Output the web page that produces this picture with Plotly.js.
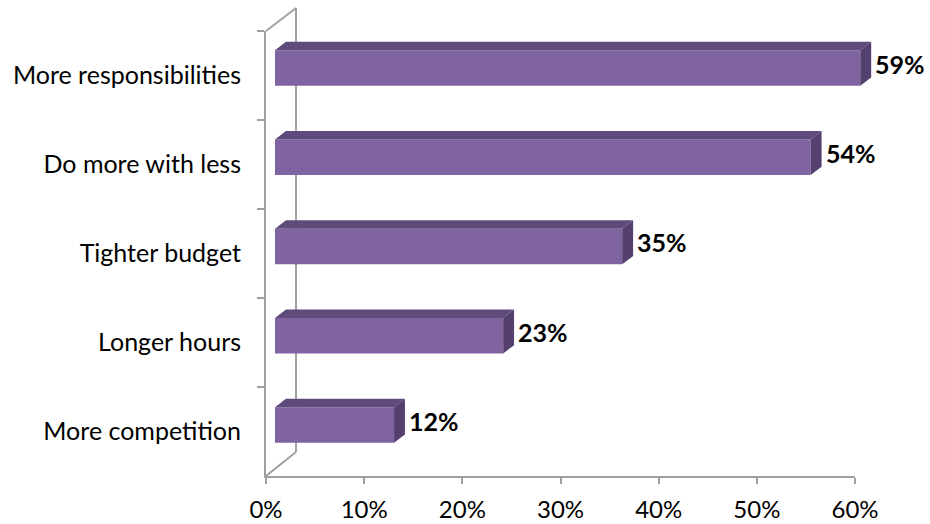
<!DOCTYPE html>
<html>
<head>
<meta charset="utf-8">
<script src="https://cdn.plot.ly/plotly-3.0.1.min.js"></script>
<style>html,body{margin:0;padding:0;background:#fff;}#chart{width:930px;height:524px;}</style>
</head>
<body>
<div id="chart"></div>
<script>
// ---- data (top to bottom as shown) ----
const categories = ["More responsibilities", "Do more with less", "Tighter budget", "Longer hours", "More competition"];
const values = [59, 54, 35, 23, 12];
const xTickVals = [0, 10, 20, 30, 40, 50, 60];
const xTickText = ["0%", "10%", "20%", "30%", "40%", "50%", "60%"];

// ---- layout geometry ----
const W = 930, H = 524;
const px = p => p / W;
const py = p => 1 - p / H;
const FONT = "Lato, 'Open Sans', sans-serif";
const AXIS_COLOR = "#a0a0a0";
const FRONT = "#8064A2", TOP = "#5f4b7b", SIDE = "#54406e";
const BAR_W = 0.4, DX = 1.1, DY = 0.095;   // bar thickness and 3-D depth offset (axis units)
const BAR_X0 = 275, BAR_PX_PER_UNIT = 9.92;  // where bars start and their scale (pixels)

const idx = categories.map((_, i) => i);

const traces = [
  // helper trace that registers the category axis (invisible)
  {type: "scatter", mode: "markers", x: values, y: categories, xaxis: "x", yaxis: "y",
   marker: {opacity: 0}, hoverinfo: "skip", showlegend: false},
  // bar front faces
  {type: "bar", orientation: "h", x: values, y: idx, xaxis: "x2", yaxis: "y2", width: BAR_W,
   marker: {color: FRONT, line: {width: 0}}, hoverinfo: "skip", showlegend: false}
];

const shapes = [];
// back wall / depth lines
const wall = {type: "line", xref: "paper", yref: "paper", layer: "below", line: {color: AXIS_COLOR, width: 2}};
shapes.push(Object.assign({}, wall, {x0: px(266), y0: py(31), x1: px(296), y1: py(8)}));
shapes.push(Object.assign({}, wall, {x0: px(296), y0: py(8), x1: px(296), y1: py(452)}));
shapes.push(Object.assign({}, wall, {x0: px(266), y0: py(476), x1: px(296), y1: py(452)}));

// 3-D top and side faces computed from each value
values.forEach((v, i) => {
  const h = BAR_W / 2;
  shapes.push({type: "path", xref: "x2", yref: "y2", layer: "above", line: {width: 0}, fillcolor: TOP,
    path: `M0,${i - h} L${DX},${i - h - DY} L${v + DX},${i - h - DY} L${v},${i - h} Z`});
  shapes.push({type: "path", xref: "x2", yref: "y2", layer: "above", line: {width: 0}, fillcolor: SIDE,
    path: `M${v},${i - h} L${v + DX},${i - h - DY} L${v + DX},${i + h - DY} L${v},${i + h} Z`});
});

const annotations = values.map((v, i) => ({
  xref: "x2", yref: "y2", x: v + DX, y: i - DY / 2, xanchor: "left", yanchor: "middle",
  xshift: 2, showarrow: false, text: "<b>" + v + "%</b>",
  font: {family: FONT, size: 25, color: "#000"}
}));

const layout = {
  width: W, height: H,
  margin: {l: 0, r: 0, t: 0, b: 0},
  paper_bgcolor: "#fff", plot_bgcolor: "rgba(0,0,0,0)",
  showlegend: false,
  xaxis: {domain: [px(266), px(855)], range: [0, 60], anchor: "y",
    tickmode: "array", tickvals: xTickVals, ticktext: xTickText,
    ticks: "outside", ticklen: 6, tickwidth: 2, tickcolor: AXIS_COLOR, ticklabelstandoff: 5,
    showline: true, linecolor: AXIS_COLOR, linewidth: 2,
    showgrid: false, zeroline: false, fixedrange: true,
    tickfont: {family: FONT, size: 24, color: "#000"}},
  yaxis: {domain: [py(476), py(31)], type: "category", categoryorder: "array", categoryarray: categories,
    range: [4.5, -0.5], anchor: "x",
    ticks: "outside", tickson: "boundaries", ticklen: 7, tickwidth: 2, tickcolor: AXIS_COLOR, ticklabelstandoff: 18,
    showline: true, linecolor: AXIS_COLOR, linewidth: 2,
    showgrid: false, zeroline: false, fixedrange: true,
    tickfont: {family: FONT, size: 25, color: "#000"}},
  xaxis2: {domain: [0, 1], range: [-BAR_X0 / BAR_PX_PER_UNIT, (W - BAR_X0) / BAR_PX_PER_UNIT],
    anchor: "y2", visible: false, fixedrange: true},
  yaxis2: {domain: [py(68 + 4 * 89.25 + 44.625), py(68 - 44.625)], range: [4.5, -0.5], anchor: "x2", visible: false, fixedrange: true},
  shapes: shapes,
  annotations: annotations
};

Plotly.newPlot("chart", traces, layout, {displayModeBar: false, staticPlot: true});
</script>
</body>
</html>
